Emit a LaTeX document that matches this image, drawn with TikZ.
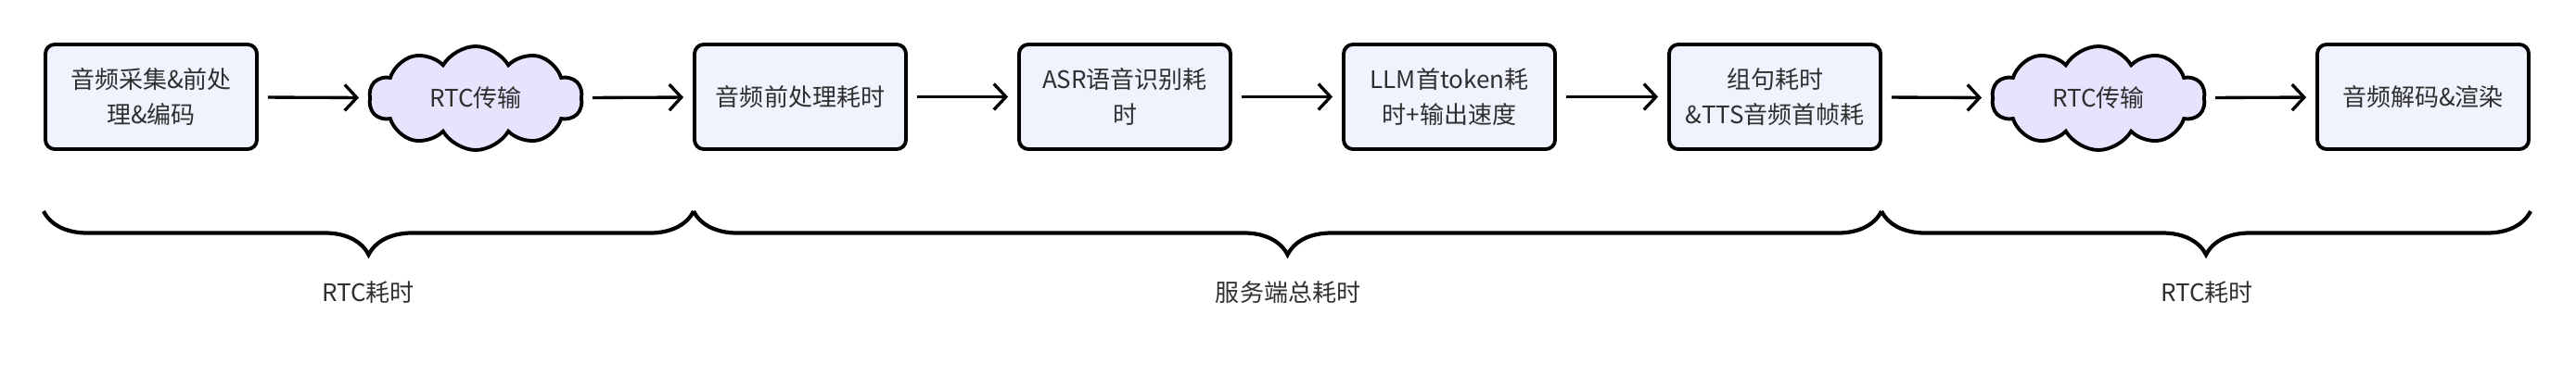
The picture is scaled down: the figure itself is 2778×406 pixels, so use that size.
\documentclass[tikz,border=0pt]{standalone}
\usepackage{fontspec}
\setmainfont{Noto Sans CJK SC}
\usetikzlibrary{shapes.symbols,decorations.pathreplacing,arrows.meta}

\definecolor{boxblue}{HTML}{EFF3FD}
\definecolor{cloudlilac}{HTML}{E9E2FD}
\definecolor{inkgray}{HTML}{2F2F2F}

\tikzset{
  stage/.style={draw, line width=1.1pt, rounded corners=1mm, fill=boxblue,
    minimum width=22.8mm, minimum height=11.3mm, inner sep=0pt, align=center,
    text=inkgray, font=\fontsize{7.4}{11}\selectfont},
  net/.style={cloud, cloud puffs=10, cloud puff arc=120, aspect=2.05, draw, line width=1.1pt,
    fill=cloudlilac, minimum width=23mm, minimum height=11.2mm, inner sep=0pt,
    text=inkgray, font=\fontsize{7.4}{11}\selectfont},
  flow/.style={-{Straight Barb[length=1.3mm, width=2.8mm]}, line width=0.95pt,
    shorten <=1mm, shorten >=1mm},
  span/.style={decorate, decoration={brace, mirror, amplitude=4.7mm}, line width=1.2pt},
  tag/.style={text=inkgray, font=\fontsize{7.4}{11}\selectfont}
}

\begin{document}
\begin{tikzpicture}[x=0.1mm, y=-0.1mm]
\useasboundingbox (0,0) rectangle (2778,406);
\node[stage] (enc) at (163,104.5) {音频采集\&前处\\理\&编码};
\node[net] (rtcup) at (513,106) {RTC传输};
\node[stage] (pre) at (863,104.5) {音频前处理耗时};
\node[stage] (asr) at (1213,104.5) {ASR语音识别耗\\时};
\node[stage] (llm) at (1563,104.5) {LLM首token耗\\时+输出速度};
\node[stage] (tts) at (1914,104.5) {组句耗时\\\&TTS音频首帧耗};
\node[net] (rtcdown) at (2263,106) {RTC传输};
\node[stage] (dec) at (2613,104.5) {音频解码\&渲染};
\draw[flow] (enc) -- (rtcup);
\draw[flow] (rtcup) -- (pre);
\draw[flow] (pre) -- (asr);
\draw[flow] (asr) -- (llm);
\draw[flow] (llm) -- (tts);
\draw[flow] (tts) -- (rtcdown);
\draw[flow] (rtcdown) -- (dec);
\coordinate (b0) at (47,228);
\coordinate (b1) at (748,228);
\coordinate (b2) at (2029,228);
\coordinate (b3) at (2729,228);
\draw[span] (b0) -- (b1);
\draw[span] (b1) -- (b2);
\draw[span] (b2) -- (b3);
\node[tag] (cost1) at (397,316) {RTC耗时};
\node[tag] (cost2) at (1389,316) {服务端总耗时};
\node[tag] (cost3) at (2380,316) {RTC耗时};
\end{tikzpicture}
\end{document}
